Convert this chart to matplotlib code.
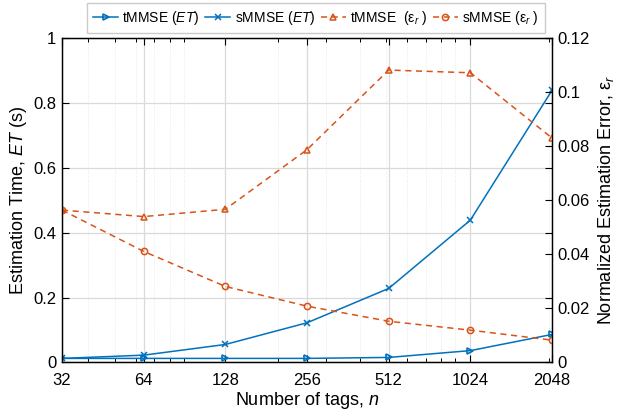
import matplotlib
matplotlib.use("Agg")
import matplotlib.pyplot as plt
from matplotlib.ticker import FixedLocator, LogLocator, NullFormatter

plt.rcParams['font.family'] = ['Liberation Sans', 'DejaVu Sans']
plt.rcParams['mathtext.fontset'] = 'custom'
plt.rcParams['mathtext.rm'] = 'Liberation Sans'
plt.rcParams['mathtext.it'] = 'Liberation Sans:italic'

# data
tags = [32, 64, 128, 256, 512, 1024, 2048]
tick_labels = ['32', '64', '128', '256', '512', '1024', '2048']
t_et = [0.012, 0.012, 0.012, 0.012, 0.015, 0.036, 0.086]
s_et = [0.012, 0.022, 0.055, 0.122, 0.228, 0.439, 0.840]
t_err = [0.0564, 0.0540, 0.0567, 0.0788, 0.1083, 0.1073, 0.0831]
s_err = [0.0564, 0.0411, 0.0281, 0.0208, 0.0152, 0.0119, 0.0082]

blue = '#0072BD'
orange = '#D95319'

fig = plt.figure(figsize=(6.22, 4.18), dpi=100)
ax = fig.add_axes([0.0997, 0.1333, 0.7878, 0.7746])
ax2 = ax.twinx()

# left axis: estimation time
l1, = ax.plot(tags, t_et, color=blue, lw=1.1, marker='>', ms=5,
              mfc='none', mew=1.2, label='tMMSE ($ET$)')
l2, = ax.plot(tags, s_et, color=blue, lw=1.1, marker='x', ms=4.5,
              mew=1.1, label='sMMSE ($ET$)')

# right axis: normalized error
l3, = ax2.plot(tags, t_err, color=orange, lw=1.1, ls=(0, (4, 3)), marker='^',
               ms=5, mfc='none', mew=1.1, label=r'tMMSE  ($\mathregular{\epsilon_{\it r}}$ )')
l4, = ax2.plot(tags, s_err, color=orange, lw=1.1, ls=(0, (4, 3)), marker='o',
               ms=4.5, mfc='none', mew=1.1, label=r'sMMSE ($\mathregular{\epsilon_{\it r}}$ )')

ax.set_xscale('log', base=2)
ax.set_xlim(32, 2048)
ax.xaxis.set_major_locator(FixedLocator(tags))
ax.set_xticklabels(tick_labels)
ax.xaxis.set_minor_locator(LogLocator(base=10, subs=range(2, 10)))
ax.xaxis.set_minor_formatter(NullFormatter())

ax.set_ylim(0, 1)
ax.set_yticks([0, 0.2, 0.4, 0.6, 0.8, 1])
ax.set_yticklabels(['0', '0.2', '0.4', '0.6', '0.8', '1'])
ax2.set_ylim(0, 0.12)
ax2.set_yticks([0, 0.02, 0.04, 0.06, 0.08, 0.1, 0.12])
ax2.set_yticklabels(['0', '0.02', '0.04', '0.06', '0.08', '0.1', '0.12'])

ax.grid(True, which='major', color='#dadada', lw=0.9)
ax.grid(True, which='minor', axis='x', color='#e8e8e8', lw=0.7, ls=':')
ax.set_axisbelow(True)

ax.tick_params(which='both', direction='in', top=True, right=True, labelsize=12)
ax.tick_params(which='major', length=5, width=0.8)
ax.tick_params(which='minor', length=3, width=0.7)
ax.tick_params(axis='x', pad=8)
ax.tick_params(axis='y', pad=4)
ax2.tick_params(direction='in', length=5, width=0.8, labelsize=12, pad=4)

ax.set_xlabel('Number of tags, $n$', fontsize=13, labelpad=1)
ax.set_ylabel('Estimation Time, $ET$ (s)', fontsize=13, labelpad=3)
ax2.set_ylabel(r'Normalized Estimation Error, $\mathregular{\epsilon_{\it r}}$', fontsize=13, labelpad=4)

for a in (ax, ax2):
    for s in a.spines.values():
        s.set_linewidth(0.9)

fig.legend(handles=[l1, l2, l3, l4], loc='upper center', ncol=4,
           bbox_to_anchor=(0.508, 0.993), borderaxespad=0, fontsize=10,
           frameon=True, fancybox=False, edgecolor='#bfbfbf', handlelength=1.8,
           handletextpad=0.3, columnspacing=0.4, borderpad=0.45)

plt.savefig('out.png', dpi=100)
plt.close()
